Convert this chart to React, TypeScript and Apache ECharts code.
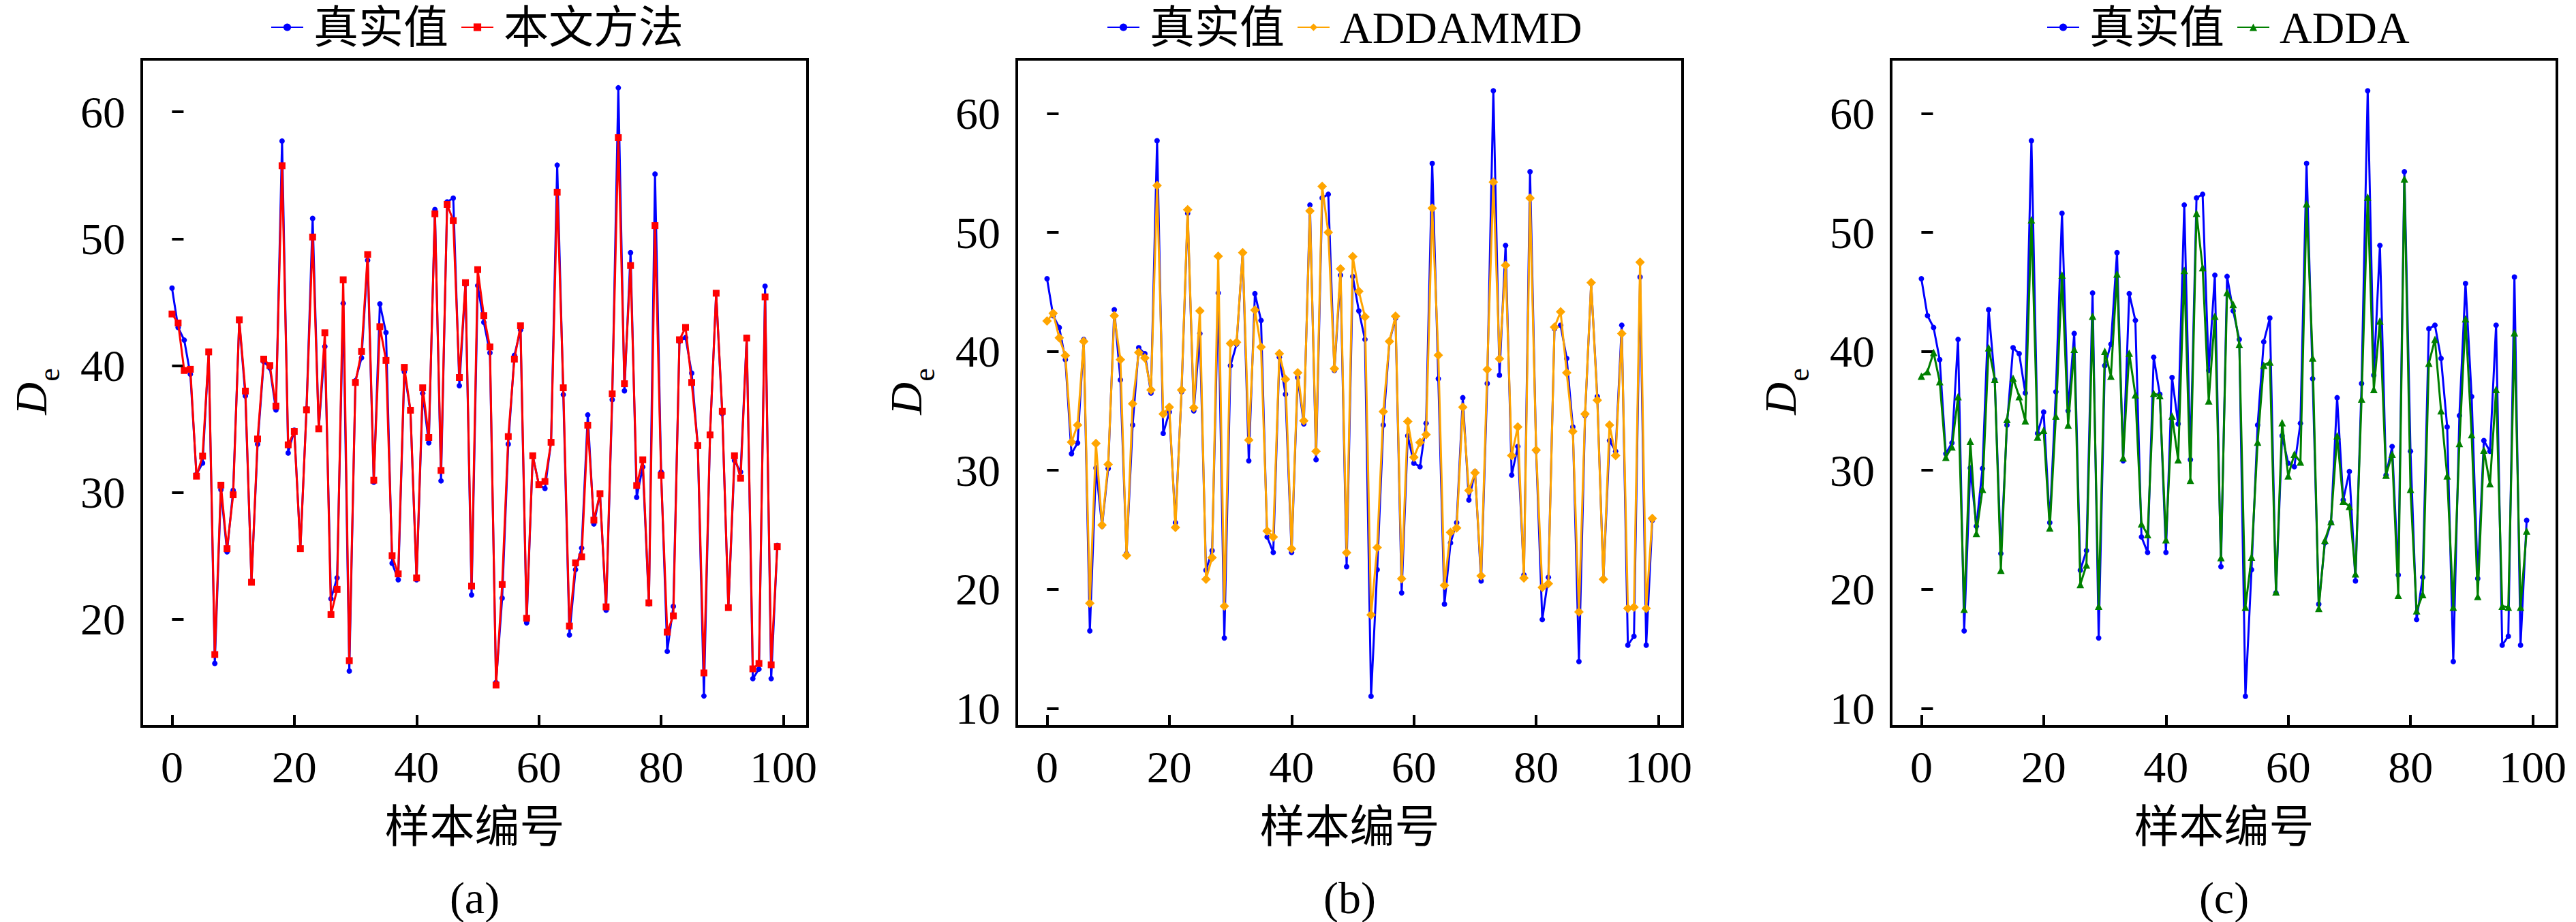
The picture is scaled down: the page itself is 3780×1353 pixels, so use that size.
import { useEffect, useRef } from "react";
import * as echarts from "echarts";

// sample index 0..99
const sampleIds = Array.from({ length: 100 }, (_, i) => i);

// true values (panels b and c)
const trueValues = [
  46.1, 43.0, 42.0, 39.3, 31.4, 32.3, 41.0, 16.5, 30.2, 25.3,
  30.15, 43.5, 37.6, 23.0, 33.8, 40.3, 39.8, 36.5, 57.7, 33.1,
  34.9, 25.6, 36.6, 51.6, 35.0, 41.5, 21.6, 23.25, 44.9, 15.9,
  38.8, 40.6, 48.3, 30.8, 44.85, 42.6, 24.4, 23.1, 39.5, 36.4,
  23.1, 37.8, 33.9, 52.3, 30.9, 52.9, 53.2, 38.4, 46.4, 21.9,
  46.3, 43.4, 41.0, 11.0, 21.65, 33.8, 40.8, 42.8, 19.7, 32.9,
  30.6, 30.3, 33.95, 55.8, 37.7, 18.75, 23.9, 25.6, 36.1, 27.5,
  29.9, 20.7, 37.3, 61.9, 38.0, 48.9, 29.6, 32.0, 21.2, 55.1,
  31.6, 17.45, 21.0, 41.9, 42.2, 39.4, 33.65, 13.93, 34.6, 45.7,
  36.2, 20.9, 32.5, 31.6, 42.2, 15.3, 16.05, 46.25, 15.3, 25.8,
];

// panel (a) shows sample 53 at about 15
const trueValuesA = [...trueValues];
trueValuesA[53] = 15.0;

const oursValues = [
  44.06, 43.35, 39.6, 39.7, 31.27, 32.85, 41.07, 17.2, 30.56, 25.55,
  29.8, 43.6, 37.98, 22.9, 34.2, 40.5, 40.0, 36.8, 55.75, 33.74,
  34.8, 25.55, 36.5, 50.13, 35.0, 42.58, 20.35, 22.34, 46.76, 16.72,
  38.66, 41.1, 48.75, 30.95, 43.06, 40.4, 25.0, 23.56, 39.85, 36.47,
  23.24, 38.24, 34.32, 51.96, 31.72, 52.7, 51.42, 39.05, 46.53, 22.6,
  47.56, 43.93, 41.46, 14.79, 22.72, 34.39, 40.5, 43.13, 20.06, 32.88,
  30.6, 30.85, 33.94, 53.67, 38.24, 19.45, 24.43, 24.9, 35.29, 27.8,
  29.89, 20.96, 37.76, 57.97, 38.56, 47.88, 30.53, 32.56, 21.28, 51.03,
  31.33, 18.97, 20.25, 42.03, 43.0, 38.66, 33.68, 15.75, 34.52, 45.7,
  36.38, 20.9, 32.88, 31.11, 42.16, 16.07, 16.49, 45.41, 16.39, 25.71,
];

const addammdValues = [
  42.55, 43.2, 41.13, 39.64, 32.37, 33.8, 40.84, 18.83, 32.26, 25.4,
  30.5, 43.0, 39.3, 22.85, 35.6, 39.9, 39.45, 36.75, 53.94, 34.74,
  35.3, 25.2, 36.75, 51.9, 35.26, 43.4, 20.84, 22.66, 48.0, 18.58,
  40.66, 40.77, 48.3, 32.55, 43.47, 40.36, 24.9, 24.4, 39.8, 37.66,
  23.4, 38.2, 34.16, 51.8, 31.6, 53.87, 50.0, 38.54, 46.93, 23.07,
  47.96, 45.04, 42.9, 17.85, 23.5, 34.93, 40.84, 42.96, 20.88, 34.1,
  31.1, 32.34, 33.0, 52.04, 39.67, 20.33, 24.78, 25.15, 35.3, 28.3,
  29.8, 21.13, 38.47, 54.23, 39.38, 47.23, 31.24, 33.65, 20.95, 52.88,
  31.7, 20.15, 20.47, 42.04, 43.32, 38.2, 33.28, 18.1, 34.74, 45.77,
  35.9, 20.84, 33.8, 31.24, 41.5, 18.4, 18.5, 47.5, 18.4, 25.95,
];

const addaValues = [
  37.92, 38.3, 39.9, 37.45, 31.1, 31.97, 36.2, 18.32, 32.45, 24.7,
  28.4, 40.3, 37.66, 21.6, 34.27, 37.74, 36.2, 34.16, 51.06, 32.8,
  33.36, 25.15, 34.56, 46.42, 33.8, 40.18, 20.4, 22.04, 42.96, 18.58,
  40.0, 37.92, 46.5, 31.06, 39.85, 36.35, 25.5, 24.6, 36.46, 36.28,
  24.16, 34.56, 30.88, 46.8, 29.16, 51.6, 47.04, 35.84, 42.96, 22.66,
  44.96, 43.94, 40.58, 18.5, 22.7, 32.37, 38.83, 39.1, 19.78, 34.0,
  29.53, 31.35, 30.7, 52.4, 39.45, 18.4, 24.12, 25.7, 32.9, 27.4,
  26.97, 21.3, 36.0, 52.96, 36.8, 42.55, 29.6, 31.35, 19.5, 54.5,
  28.4, 18.2, 19.56, 39.0, 41.0, 35.0, 29.53, 18.5, 32.26, 42.74,
  33.0, 19.4, 31.7, 28.87, 36.8, 18.58, 18.5, 41.57, 18.5, 24.9,
];

const xTicks = [0, 20, 40, 60, 80, 100];
const yTicksA = [20, 30, 40, 50, 60];
const yTicksBC = [10, 20, 30, 40, 50, 60];
const panelLabels = ["(a)", "(b)", "(c)"];
const methodNames = ["本文方法", "ADDAMMD", "ADDA"];

const FONT = "'Liberation Serif', 'Times New Roman', 'Noto Sans CJK SC', serif";
const FONT_CJK = "'Liberation Serif', 'Noto Sans CJK SC', serif";

const toPoints = (values: number[]) => sampleIds.map((id, i) => [id, values[i]]);

export default function App() {
  const chartRef = useRef<HTMLDivElement>(null);

  useEffect(() => {
    if (!chartRef.current) return;
    const chart = echarts.init(chartRef.current, undefined, { renderer: "svg" });

    const gridLefts = [208, 1492, 2775];
    const gridWidth = 977;
    const gridTop = 87;
    const gridHeight = 979;
    const legendLefts = [392, 1619, 2998];

    const yRanges = [
      { min: 11.53, max: 64.15, ticks: yTicksA },
      { min: 8.47, max: 64.55, ticks: yTicksBC },
      { min: 8.47, max: 64.55, ticks: yTicksBC },
    ];

    const methodStyles = [
      { color: "#ff0000", symbol: "rect", size: 10, data: oursValues },
      { color: "#ffa500", symbol: "diamond", size: 14, data: addammdValues },
      { color: "#008000", symbol: "triangle", size: 11, data: addaValues },
    ];

    const grids = gridLefts.map((left) => ({
      left,
      top: gridTop,
      width: gridWidth,
      height: gridHeight,
      show: true,
      borderColor: "#000",
      borderWidth: 4,
      backgroundColor: "transparent",
    }));

    const xAxes = gridLefts.map((_, k) => ({
      type: "value",
      gridIndex: k,
      min: -4.95,
      max: 103.95,
      axisLine: { show: false },
      splitLine: { show: false },
      axisTick: {
        show: true,
        inside: true,
        length: 17,
        customValues: xTicks,
        lineStyle: { color: "#000", width: 4 },
      },
      axisLabel: {
        customValues: xTicks,
        fontSize: 66,
        fontFamily: FONT,
        color: "#000",
        margin: 26,
      },
    }));

    const yAxes = yRanges.map((r, k) => ({
      type: "value",
      gridIndex: k,
      min: r.min,
      max: r.max,
      axisLine: { show: false },
      splitLine: { show: false },
      axisTick: {
        show: true,
        inside: true,
        length: 17,
        customValues: r.ticks,
        lineStyle: { color: "#000", width: 4 },
      },
      axisLabel: {
        customValues: r.ticks,
        fontSize: 66,
        fontFamily: FONT,
        color: "#000",
        margin: 24,
      },
    }));

    const series: any[] = [];
    gridLefts.forEach((_, k) => {
      series.push({
        name: "真实值",
        type: "line",
        xAxisIndex: k,
        yAxisIndex: k,
        data: toPoints(k === 0 ? trueValuesA : trueValues),
        symbol: "circle",
        symbolSize: 8,
        lineStyle: { color: "#0000ff", width: 3 },
        itemStyle: { color: "#0000ff" },
        z: 2,
      });
      const m = methodStyles[k];
      series.push({
        name: methodNames[k],
        type: "line",
        xAxisIndex: k,
        yAxisIndex: k,
        data: toPoints(m.data),
        symbol: m.symbol,
        symbolSize: m.size,
        lineStyle: { color: m.color, width: 3 },
        itemStyle: { color: m.color },
        z: 3,
      });
    });

    const legends = gridLefts.map((_, k) => ({
      data: ["真实值", methodNames[k]],
      left: legendLefts[k],
      top: 2,
      itemWidth: 47,
      itemHeight: 14,
      itemGap: 18,
      selectedMode: false,
      textStyle: {
        fontSize: 66,
        fontFamily: FONT_CJK,
        color: "#000",
        padding: [0, 0, 0, 10],
      },
    }));

    const graphics: any[] = [];
    gridLefts.forEach((left, k) => {
      const cx = left + gridWidth / 2;
      graphics.push({
        type: "text",
        x: cx,
        y: 1213,
        style: {
          text: "样本编号",
          font: `66px ${FONT_CJK}`,
          fill: "#000",
          align: "center",
          verticalAlign: "middle",
        },
      });
      graphics.push({
        type: "text",
        x: cx,
        y: 1317,
        style: {
          text: panelLabels[k],
          font: `66px ${FONT}`,
          fill: "#000",
          align: "center",
          verticalAlign: "middle",
        },
      });
      graphics.push({
        type: "text",
        x: left - 163,
        y: 585,
        rotation: Math.PI / 2,
        style: {
          text: "D",
          font: `italic 66px ${FONT}`,
          fill: "#000",
          align: "center",
          verticalAlign: "middle",
        },
      });
      graphics.push({
        type: "text",
        x: left - 136,
        y: 550,
        rotation: Math.PI / 2,
        style: {
          text: "e",
          font: `44px ${FONT}`,
          fill: "#000",
          align: "center",
          verticalAlign: "middle",
        },
      });
    });

    chart.setOption({
      animation: false,
      backgroundColor: "#fff",
      grid: grids,
      xAxis: xAxes,
      yAxis: yAxes,
      legend: legends,
      series,
      graphic: graphics,
    });

    return () => {
      chart.dispose();
    };
  }, []);

  return (
    <div
      ref={chartRef}
      style={{
        position: "fixed",
        left: 0,
        top: 0,
        width: "3780px",
        height: "1353px",
        background: "#fff",
      }}
    />
  );
}
